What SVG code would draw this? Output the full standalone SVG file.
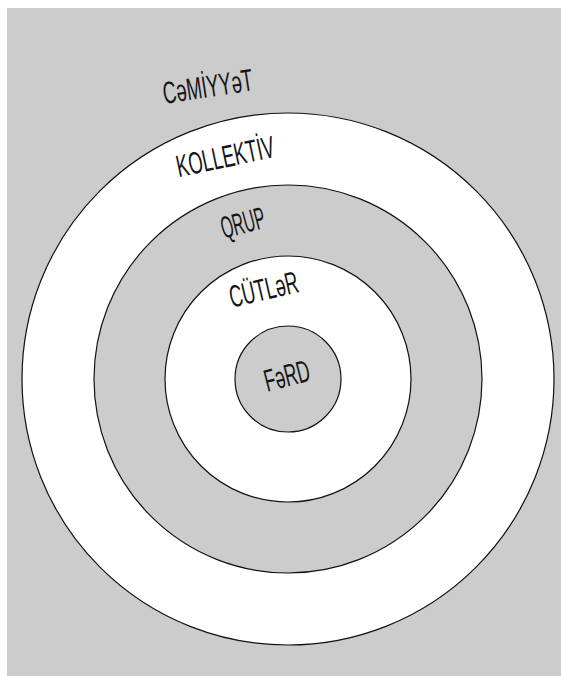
<svg xmlns="http://www.w3.org/2000/svg" width="561" height="677" viewBox="0 0 561 677">
<style>
.ring{stroke:#111;stroke-width:1.2}
.g{fill:#cccccc}
.w{fill:#ffffff}
.lbl{font-family:"Liberation Sans",Arial,sans-serif;font-size:31px;fill:#161616;text-anchor:middle}
</style>
<rect x="7" y="8" width="554" height="668" fill="#cccccc"/>
<g id="cemiyyet">
<text class="lbl" transform="translate(209.4,97) rotate(-8.7) scale(0.6,1)">CəMİYYəT</text>
</g>
<g id="kollektiv">
<circle class="ring w" cx="288" cy="379" r="266"/>
<text class="lbl" transform="translate(227.4,167) rotate(-12) scale(0.59,1)">KOLLEKTİV</text>
</g>
<g id="qrup">
<circle class="ring g" cx="288" cy="379" r="194"/>
<text class="lbl" transform="translate(245.5,233) rotate(-15) scale(0.5,1)">QRUP</text>
</g>
<g id="cutler">
<circle class="ring w" cx="288" cy="379" r="123"/>
<text class="lbl" transform="translate(266,299.8) rotate(-13) scale(0.58,1)">CÜTLəR</text>
</g>
<g id="ferd">
<circle class="ring g" cx="288" cy="379" r="53"/>
<text class="lbl" transform="translate(289.6,386) rotate(-14.5) scale(0.57,1)">FəRD</text>
</g>
</svg>
